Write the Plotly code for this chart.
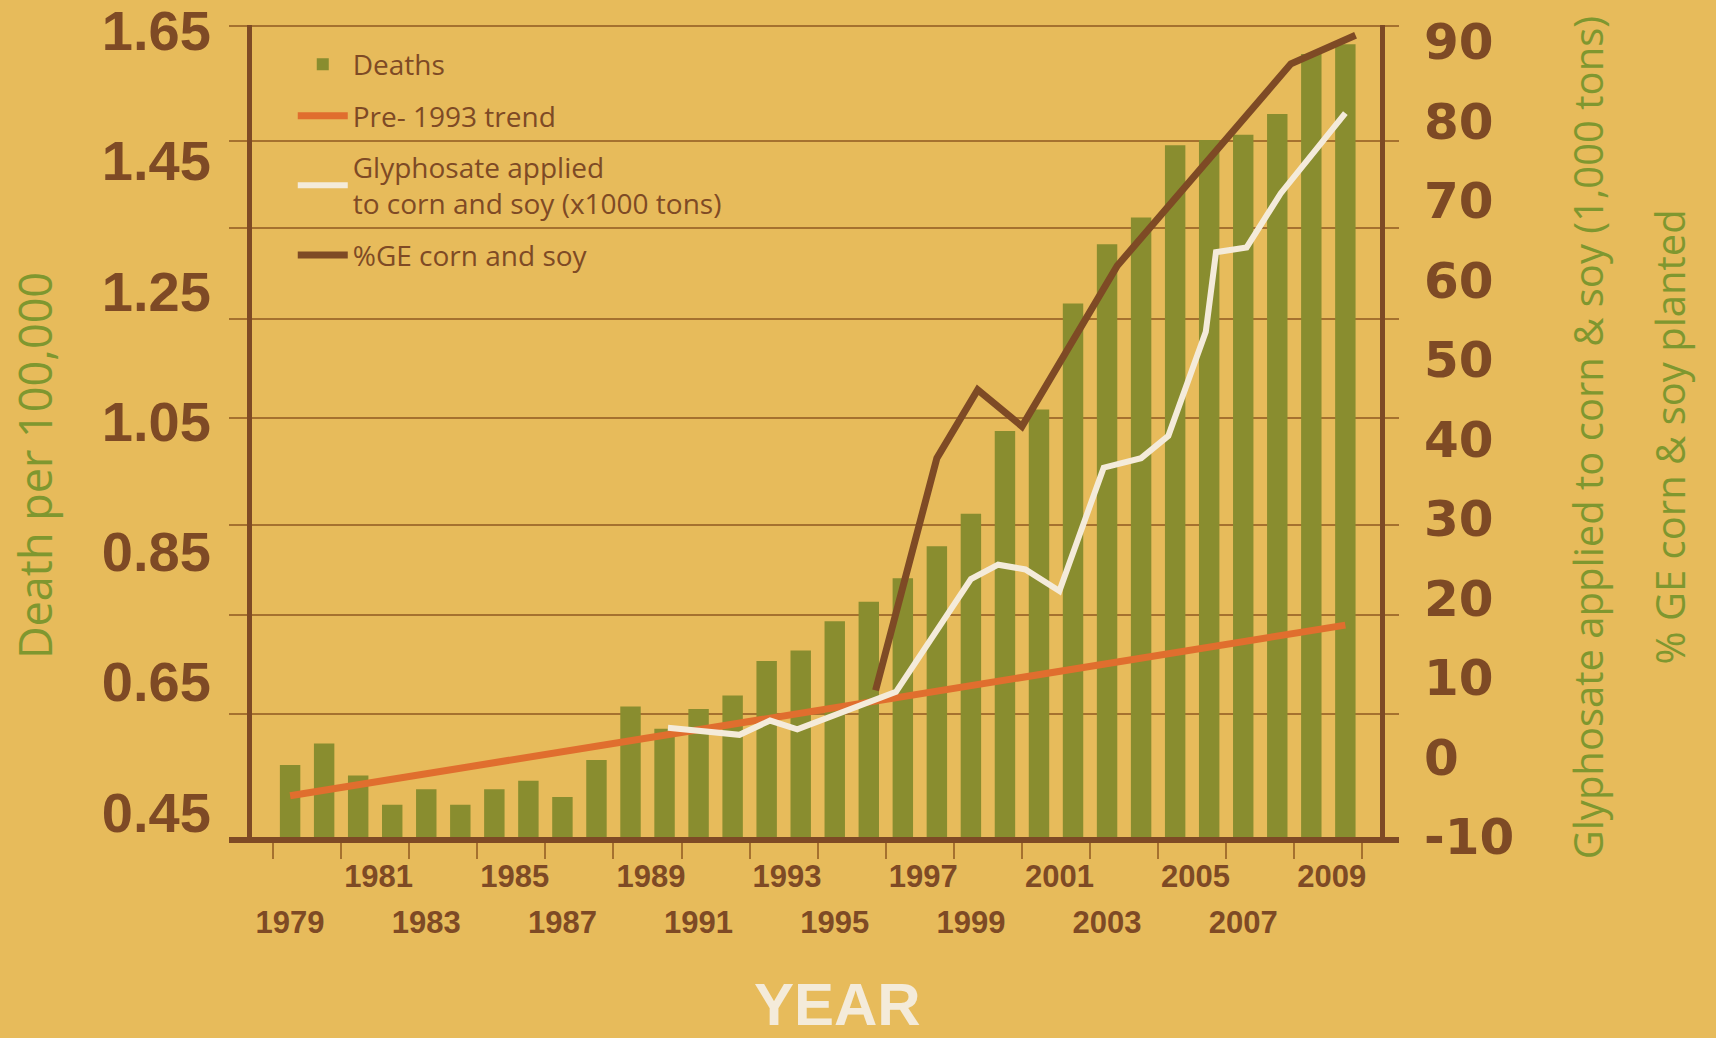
import plotly.graph_objects as go

# ---------------- data ----------------
YEARS = list(range(1979, 2011))
DEATHS = [0.522, 0.555, 0.506, 0.461, 0.485, 0.461, 0.485, 0.498, 0.473, 0.530,
          0.612, 0.578, 0.608, 0.629, 0.682, 0.698, 0.743, 0.773, 0.809, 0.858,
          0.908, 1.035, 1.068, 1.231, 1.322, 1.363, 1.474, 1.482, 1.490, 1.522,
          1.614, 1.629]

TREND_YEARS = [1979, 2010]
TREND = [0.475, 0.737]

GLY_YEARS = [1990.1, 1992.2, 1993.1, 1993.9, 1996.8, 1999.0, 1999.8, 2000.6, 2001.6,
             2002.9, 2004.0, 2004.8, 2005.9, 2006.2, 2007.1, 2008.1, 2010.0]
GLYPHOSATE = [3.7, 2.8, 4.6, 3.5, 8.2, 22.4, 24.2, 23.6, 20.9,
              36.4, 37.6, 40.4, 53.5, 63.5, 64.1, 70.9, 81.0]

GE_YEARS = [1996.2, 1998.0, 1999.2, 2000.5, 2003.3, 2008.4, 2010.3]
GE_PCT = [8.4, 37.6, 46.2, 41.6, 61.8, 87.2, 90.8]

UPPER_LABEL_YEARS = [1981, 1985, 1989, 1993, 1997, 2001, 2005, 2009]
LOWER_LABEL_YEARS = [1979, 1983, 1987, 1991, 1995, 1999, 2003, 2007]

LEFT_TICKS = [0.45, 0.65, 0.85, 1.05, 1.25, 1.45, 1.65]
RIGHT_TICKS = [-10, 0, 10, 20, 30, 40, 50, 60, 70, 80, 90]
GRID_LEVELS = [0.6002, 0.7518, 0.8909, 1.0552, 1.2068, 1.3468, 1.4807, 1.657]

# ---------------- styling ----------------
BG = "#E7BB5B"
GREEN = "#898D2F"
GREEN_TXT = "#7F972F"
BROWN = "#7E4A25"
ORANGE = "#E06E2E"
CREAM = "#F4EBDA"
GRIDC = "#A5712F"

X_RANGE = [1977.205, 2011.576]
Y_LEFT_RANGE = [0.4116, 1.6586]
Y_RIGHT_RANGE = [-10.05, 92.08]
UPPER_SHIFT = 0.6

fig = go.Figure()
fig.add_trace(go.Bar(x=YEARS, y=DEATHS, name="Deaths", marker=dict(color=GREEN, line=dict(width=0)),
                     legendgroup="a"))
fig.add_trace(go.Scatter(x=TREND_YEARS, y=TREND, mode="lines", name="Pre- 1993 trend",
                         line=dict(color=ORANGE, width=7), legendgroup="b"))
fig.add_trace(go.Scatter(x=GLY_YEARS, y=GLYPHOSATE, mode="lines", yaxis="y2",
                         name="Glyphosate applied<br>to corn and soy (x1000 tons)",
                         line=dict(color=CREAM, width=6), legendgroup="c"))
fig.add_trace(go.Scatter(x=GE_YEARS, y=GE_PCT, mode="lines", yaxis="y2", name="%GE corn and soy",
                         line=dict(color=BROWN, width=7), legendgroup="d"))
# empty helpers so the overlay axes (grid + two label rows) are drawn
fig.add_trace(go.Scatter(x=[None], y=[None], xaxis="x2", yaxis="y3", showlegend=False, hoverinfo="skip"))
fig.add_trace(go.Scatter(x=[None], y=[None], xaxis="x3", yaxis="y3", showlegend=False, hoverinfo="skip"))

xlab_font = dict(family="Liberation Sans, Arial", size=31, color=BROWN, weight="bold")

fig.update_layout(
    width=1716, height=1038, autosize=False,
    margin=dict(l=229, r=317, t=25, b=201, pad=0, autoexpand=False),
    paper_bgcolor=BG, plot_bgcolor=BG,
    bargap=0.4,
    showlegend=True,
    legend=dict(x=0.0545, y=0.982, xanchor="left", yanchor="top", bgcolor="rgba(0,0,0,0)",
                font=dict(family="Open Sans", size=28, color=BROWN),
                itemwidth=50, tracegroupgap=12, traceorder="grouped"),
    xaxis=dict(range=X_RANGE, domain=[0, 1], anchor="y", showgrid=False, zeroline=False,
               showline=True, linewidth=6, linecolor=BROWN, automargin=False,
               ticks="outside", ticklen=16, tickwidth=2, tickcolor=GRIDC,
               tickmode="linear", tick0=1978.5, dtick=2, showticklabels=False),
    xaxis2=dict(overlaying="x", range=X_RANGE, anchor="y", showgrid=False, zeroline=False,
                showline=False, ticks="", automargin=False,
                tickmode="array", tickvals=[y + UPPER_SHIFT for y in UPPER_LABEL_YEARS],
                ticktext=[str(y) for y in UPPER_LABEL_YEARS],
                tickfont=xlab_font, ticklabelstandoff=18, ticklabeloverflow="allow"),
    xaxis3=dict(overlaying="x", range=X_RANGE, anchor="y", showgrid=False, zeroline=False,
                showline=False, ticks="", automargin=False,
                tickmode="array", tickvals=LOWER_LABEL_YEARS,
                ticktext=[str(y) for y in LOWER_LABEL_YEARS],
                tickfont=xlab_font, ticklabelstandoff=64, ticklabeloverflow="allow"),
    yaxis=dict(range=Y_LEFT_RANGE, anchor="free", position=0.0171, showgrid=False, zeroline=False,
               showline=True, linewidth=5, linecolor=BROWN, automargin=False,
               tickmode="array", tickvals=LEFT_TICKS, ticktext=[f"{v:.2f}" for v in LEFT_TICKS],
               ticks="", ticklabelstandoff=25, ticklabeloverflow="allow",
               tickfont=dict(family="Liberation Sans, Arial", size=56, color=BROWN, weight="bold")),
    yaxis2=dict(range=Y_RIGHT_RANGE, overlaying="y", side="right", anchor="free", position=0.9855,
                showgrid=False, zeroline=False, showline=True, linewidth=5, linecolor=BROWN,
                automargin=False,
                tickmode="array", tickvals=RIGHT_TICKS, ticktext=[str(v) for v in RIGHT_TICKS],
                ticks="", ticklabelstandoff=29, ticklabeloverflow="allow",
                tickfont=dict(family="DejaVu Sans", size=50, color=BROWN, weight="bold")),
    yaxis3=dict(range=Y_LEFT_RANGE, overlaying="y", anchor="x", showgrid=True, gridcolor=GRIDC,
                gridwidth=2, zeroline=False, showline=False, ticks="", showticklabels=False,
                automargin=False, tickmode="array", tickvals=GRID_LEVELS),
)

fig.add_annotation(text="Death per 100,000", xref="paper", yref="paper", x=-0.1667, y=0.458,
                   xanchor="center", yanchor="middle", textangle=-90, showarrow=False,
                   font=dict(family="Open Sans", size=45, color=GREEN_TXT))
fig.add_annotation(text="Glyphosate applied to corn &amp; soy (1,000 tons)", xref="paper", yref="paper",
                   x=1.1607, y=0.491, xanchor="center", yanchor="middle", textangle=-90,
                   showarrow=False, font=dict(family="Open Sans", size=40, color=GREEN_TXT))
fig.add_annotation(text="% GE corn &amp; soy planted", xref="paper", yref="paper",
                   x=1.2308, y=0.492, xanchor="center", yanchor="middle", textangle=-90,
                   showarrow=False, font=dict(family="Open Sans", size=40, color=GREEN_TXT))
fig.add_annotation(text="YEAR", xref="paper", yref="paper", x=0.5197, y=-0.2495,
                   xanchor="center", yanchor="bottom", showarrow=False,
                   font=dict(family="Liberation Sans, Arial", size=60, color=CREAM, weight="bold"))

fig.write_html("out.html", config={"displayModeBar": False},
               post_script="document.body.style.margin='0px';document.body.style.overflow='hidden';")
